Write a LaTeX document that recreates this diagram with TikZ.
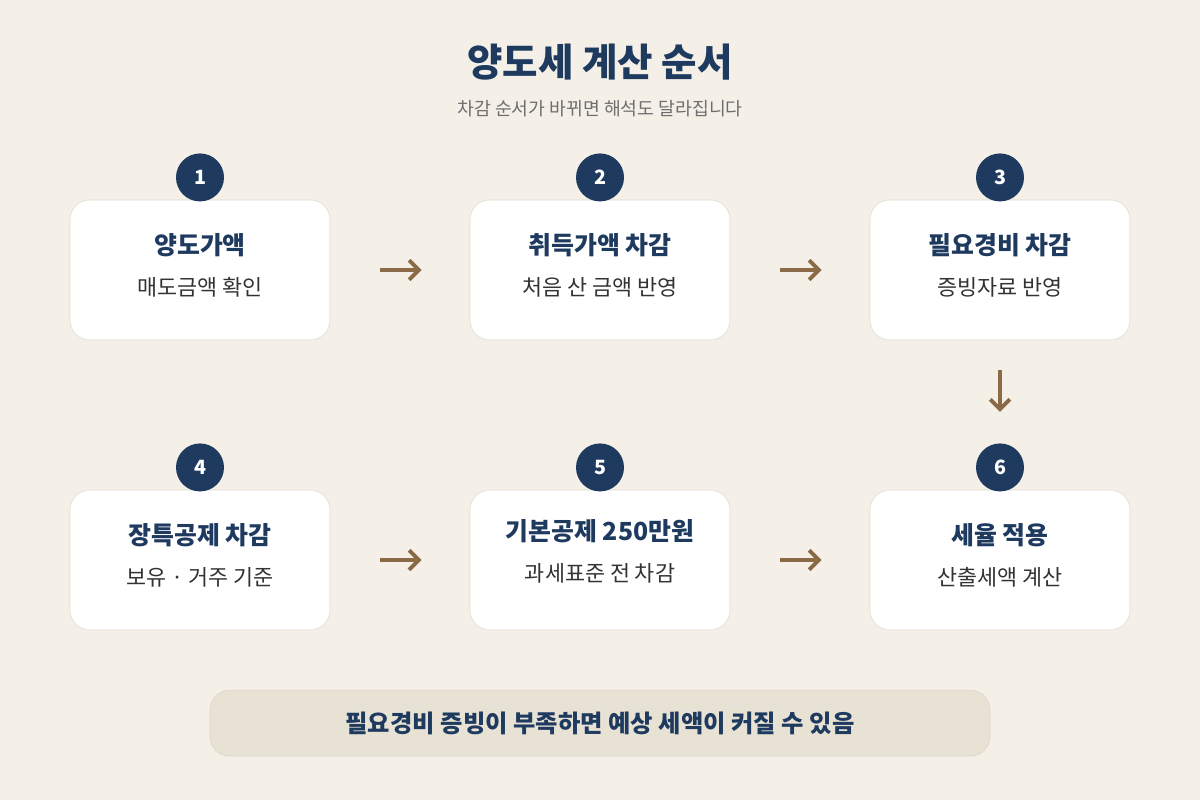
\documentclass[tikz,border=0pt]{standalone}
\usepackage{fontspec}
\setmainfont{Noto Sans CJK KR}
\usetikzlibrary{arrows.meta, positioning}
\definecolor{ytNavy}{HTML}{1E3A5F}
\definecolor{ytBg}{HTML}{F4F0E8}
\definecolor{ytLine}{HTML}{E2DACB}
\definecolor{ytBrown}{HTML}{8B6B47}
\definecolor{ytGray}{HTML}{6E6E6E}
\definecolor{ytText}{HTML}{333333}
\definecolor{ytNote}{HTML}{E8E2D5}
\definecolor{ytNoteLine}{HTML}{DDD5C6}

\tikzset{
  stepbox/.style={draw=ytLine, fill=white, rounded corners=14pt,
                  minimum width=6.5cm, minimum height=3.5cm},
  numdot/.style={circle, fill=ytNavy, minimum size=1.2cm, inner sep=0pt,
                 text=white, font=\bfseries\fontsize{14}{16}\selectfont},
  boxhead/.style={text=ytNavy, font=\bfseries\fontsize{17.7}{21}\selectfont},
  boxsub/.style={text=ytText, font=\fontsize{15.5}{18}\selectfont},
  flow/.style={draw=ytBrown, line width=2.8pt,
               -{Straight Barb[length=7pt, width=14pt]}}
}

\begin{document}
\begin{tikzpicture}
  \fill[ytBg] (0,0) rectangle (30,-20);
  \useasboundingbox (0,0) rectangle (30,-20);

  % title
  \node[text=ytNavy, font=\bfseries\fontsize{27.4}{32}\selectfont] (title) at (15,-1.55)
    {양도세 계산 순서};
  \node[text=ytGray, font=\fontsize{13}{16}\selectfont] (subtitle) at (15,-2.72)
    {차감 순서가 바뀌면 해석도 달라집니다};

  % steps
  \node[stepbox] (b1) at (5,-6.75) {};
  \node[stepbox] (b2) at (15,-6.75) {};
  \node[stepbox] (b3) at (25,-6.75) {};
  \node[stepbox] (b4) at (5,-14) {};
  \node[stepbox] (b5) at (15,-14) {};
  \node[stepbox] (b6) at (25,-14) {};

  \node[numdot, above=-0.05cm of b1] (n1) {1};
  \node[numdot, above=-0.05cm of b2] (n2) {2};
  \node[numdot, above=-0.05cm of b3] (n3) {3};
  \node[numdot, above=-0.05cm of b4] (n4) {4};
  \node[numdot, above=-0.05cm of b5] (n5) {5};
  \node[numdot, above=-0.05cm of b6] (n6) {6};

  \node[boxhead] (h1) at ([yshift=0.62cm]b1.center) {양도가액};
  \node[boxsub]  (s1) at ([yshift=-0.43cm]b1.center) {매도금액 확인};
  \node[boxhead] (h2) at ([yshift=0.62cm]b2.center) {취득가액 차감};
  \node[boxsub]  (s2) at ([yshift=-0.43cm]b2.center) {처음 산 금액 반영};
  \node[boxhead] (h3) at ([yshift=0.62cm]b3.center) {필요경비 차감};
  \node[boxsub]  (s3) at ([yshift=-0.43cm]b3.center) {증빙자료 반영};
  \node[boxhead] (h4) at ([yshift=0.62cm]b4.center) {장특공제 차감};
  \node[boxsub]  (s4) at ([yshift=-0.43cm]b4.center) {보유 · 거주 기준};
  \node[boxhead] (h5) at ([yshift=0.72cm]b5.center) {기본공제 250만원};
  \node[boxsub]  (s5) at ([yshift=-0.33cm]b5.center) {과세표준 전 차감};
  \node[boxhead] (h6) at ([yshift=0.62cm]b6.center) {세율 적용};
  \node[boxsub]  (s6) at ([yshift=-0.43cm]b6.center) {산출세액 계산};

  % arrows
  \draw[flow, shorten <=1.25cm, shorten >=1.2cm] (b1.east) -- (b2.west);
  \draw[flow, shorten <=1.25cm, shorten >=1.2cm] (b2.east) -- (b3.west);
  \draw[flow, shorten <=0.75cm, shorten >=0.78cm] (b3.south) -- (n6.north);
  \draw[flow, shorten <=1.25cm, shorten >=1.2cm] (b4.east) -- (b5.west);
  \draw[flow, shorten <=1.25cm, shorten >=1.2cm] (b5.east) -- (b6.west);

  % note
  \node[draw=ytNoteLine, fill=ytNote, rounded corners=14pt, minimum width=19.5cm,
        minimum height=1.65cm, text=ytNavy, font=\bfseries\fontsize{17.3}{20}\selectfont]
    (note) at (15,-18.08) {필요경비 증빙이 부족하면 예상 세액이 커질 수 있음};
\end{tikzpicture}
\end{document}
